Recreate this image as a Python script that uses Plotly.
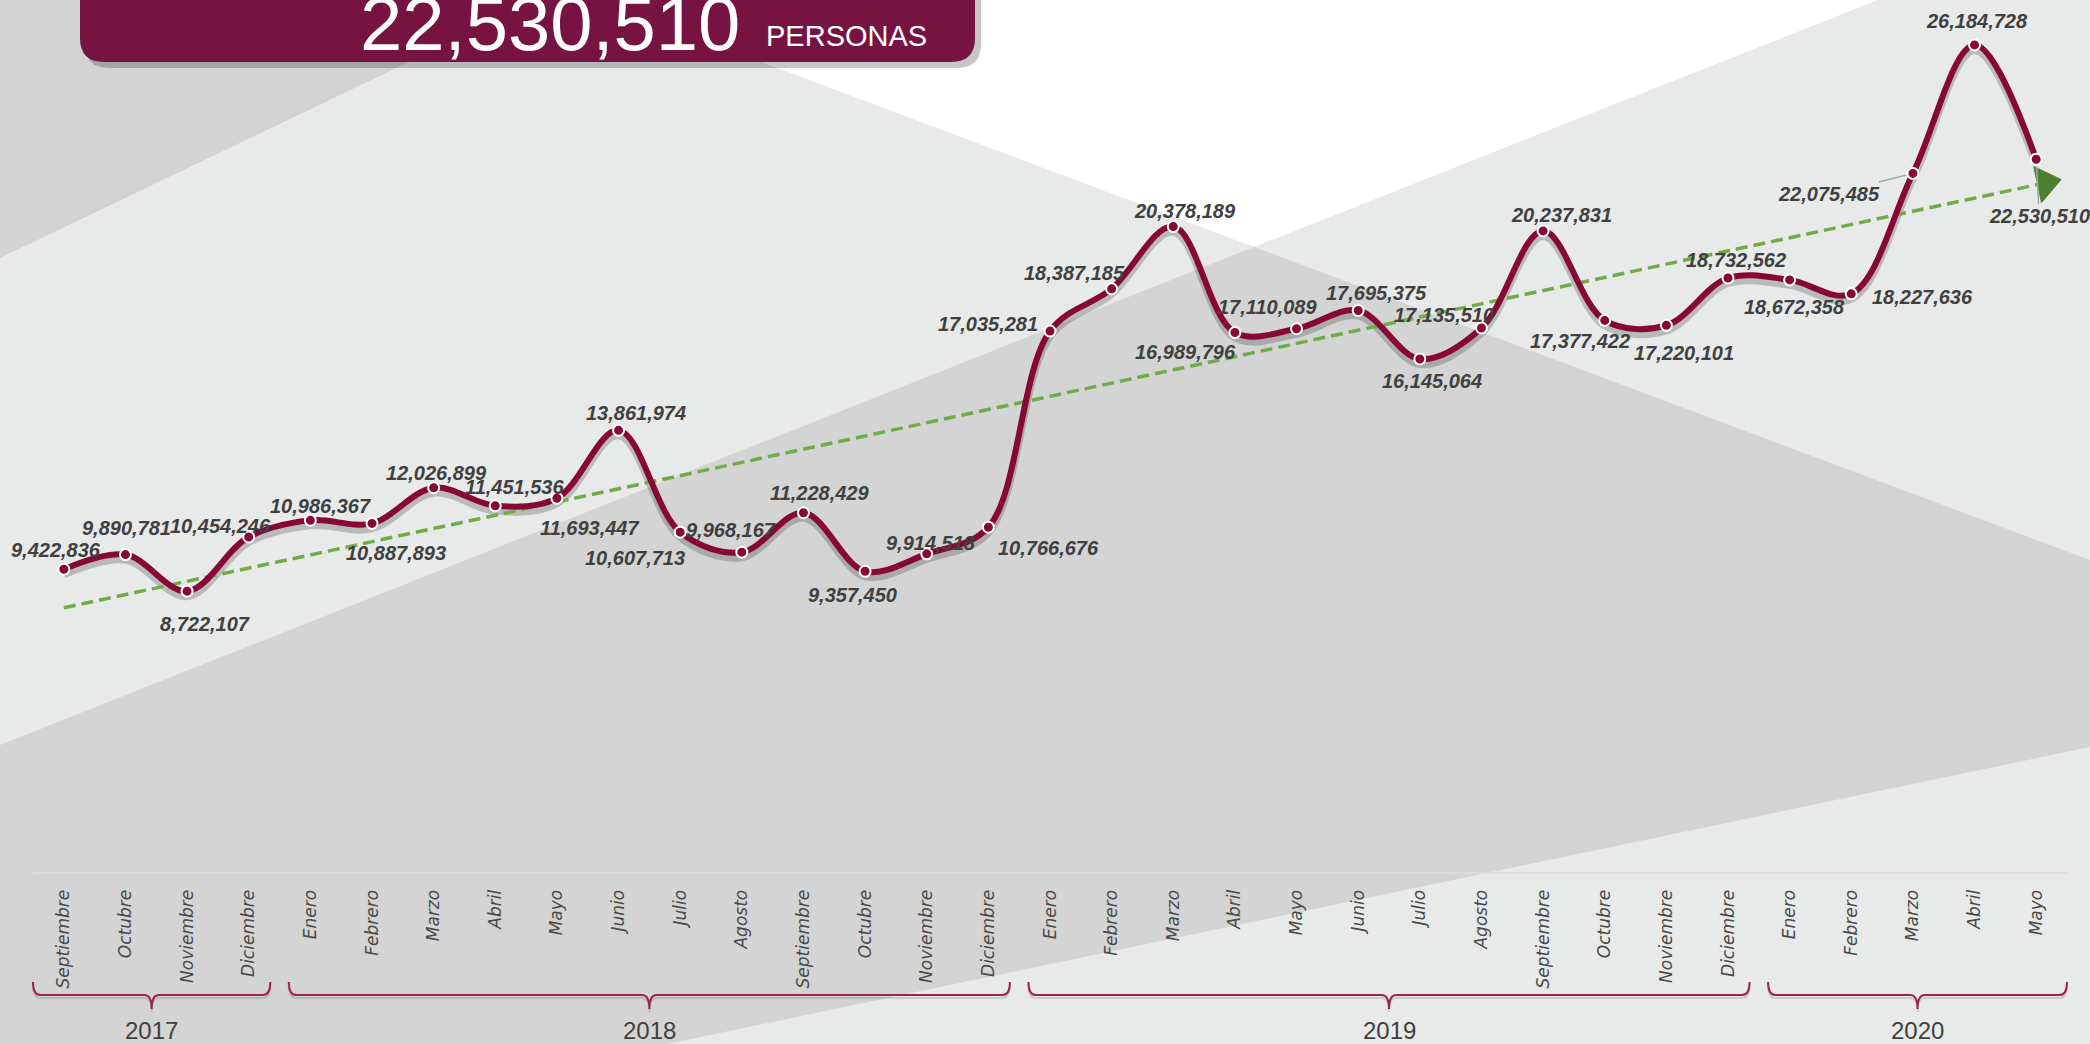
import numpy as np
import plotly.graph_objects as go

# ---------------- data ----------------
months = ["Septiembre", "Octubre", "Noviembre", "Diciembre",
          "Enero", "Febrero", "Marzo", "Abril", "Mayo", "Junio", "Julio", "Agosto",
          "Septiembre", "Octubre", "Noviembre", "Diciembre",
          "Enero", "Febrero", "Marzo", "Abril", "Mayo", "Junio", "Julio", "Agosto",
          "Septiembre", "Octubre", "Noviembre", "Diciembre",
          "Enero", "Febrero", "Marzo", "Abril", "Mayo"]
year_names = ["2017", "2018", "2019", "2020"]
year_counts = [4, 12, 12, 5]
personas = [9422836, 9890781, 8722107, 10454246,
            10986367, 10887893, 12026899, 11451536, 11693447, 13861974, 10607713, 9968167,
            11228429, 9357450, 9914518, 10766676,
            17035281, 18387185, 20378189, 16989796, 17110089, 17695375, 16145064, 17135510,
            20237831, 17377422, 17220101, 18732562,
            18672358, 18227636, 22075485, 26184728, 22530510]
headline_value = "22,530,510"
headline_unit = "PERSONAS"

# ---------------- styles ----------------
# label offsets (dx, dy) in pixels, dy positive = downwards
label_offsets = [(-8, -19), (1, -27), (18, 33), (-28, -11), (10, -14), (24, 30), (3, -15), (19, -19),
                 (33, 30), (17, -17), (-45, 26), (-11, -22), (16, -20), (-13, 24), (4, -11), (60, 21),
                 (-62, -7), (-37, -16), (12, -16), (-49, 19), (-29, -22), (18, -17), (12, 22), (-37, -13),
                 (18, -16), (-25, 21), (18, 28), (8, -18), (5, 27), (71, 3), (-84, 21), (2, -24), (3, 57)]
leader_points = {30, 32}

MAROON = "#870837"
BOX = "#761340"
BRACE = "#9B2453"
NARROW = "Liberation Sans, Arial, sans-serif"
LABEL_FONT = dict(family=NARROW, size=20, color="#404040", weight="bold", style="italic")

W, H = 2090, 1044
ML, MR, MT, MB = 33, 23, 0, 172
PW = W - ML - MR
PH = H - MT - MB

n = len(personas)
idx = np.arange(n)
XR = [-0.5, n - 0.5]
YR = [-256000, 27620000]
px_per_val = PH / (YR[1] - YR[0])
shadow_dy = 5 / px_per_val


def pp(x, y):
    return (x - ML) / PW, (MT + PH - y) / PH


def path_px(pts, close=True):
    s = ""
    for k, (x, y) in enumerate(pts):
        px, py = pp(x, y)
        s += ("M" if k == 0 else "L") + f"{px:.5f},{py:.5f} "
    return s + ("Z" if close else "")


def xpaper(i):
    return (i - XR[0]) / (XR[1] - XR[0])


def ypaper(y):
    return (MT + PH - y) / PH


shapes = []
# background polygons (pixel geometry of the decorative backdrop)
shapes.append(dict(type="path", xref="paper", yref="paper", layer="below", line=dict(width=0),
                   fillcolor="#D3D3D3", path=path_px([(0, 0), (538, 0), (0, 258)])))
shapes.append(dict(type="path", xref="paper", yref="paper", layer="below", line=dict(width=0),
                   fillcolor="#FFFFFF", path=path_px([(596, 0), (1878, 0), (1254, 247)])))
shapes.append(dict(type="path", xref="paper", yref="paper", layer="below", line=dict(width=0),
                   fillcolor="#D4D4D4",
                   path=path_px([(0, 745), (1254, 247), (2090, 560), (2090, 747), (667, 1044), (0, 1044)])))


# headline box
def box_path(x0, x1, y0, y1, r):
    s = ""
    a = pp(x0, y0); s += f"M{a[0]:.5f},{a[1]:.5f} "
    a = pp(x0, y1 - r); s += f"L{a[0]:.5f},{a[1]:.5f} "
    c = pp(x0, y1); e = pp(x0 + r, y1); s += f"Q{c[0]:.5f},{c[1]:.5f} {e[0]:.5f},{e[1]:.5f} "
    a = pp(x1 - r, y1); s += f"L{a[0]:.5f},{a[1]:.5f} "
    c = pp(x1, y1); e = pp(x1, y1 - r); s += f"Q{c[0]:.5f},{c[1]:.5f} {e[0]:.5f},{e[1]:.5f} "
    a = pp(x1, y0); s += f"L{a[0]:.5f},{a[1]:.5f} Z"
    return s


shapes.append(dict(type="path", xref="paper", yref="paper", layer="above", line=dict(width=0),
                   fillcolor="rgba(0,0,0,0.22)", path=box_path(85, 981, -40, 68, 24)))
shapes.append(dict(type="path", xref="paper", yref="paper", layer="above", line=dict(width=0),
                   fillcolor=BOX, path=box_path(80, 975, -40, 62, 24)))

annotations = []
# year braces
start = 0
for g, (name, cnt) in enumerate(zip(year_names, year_counts)):
    first, last = start, start + cnt - 1
    left = first - 0.5 + (0 if g == 0 else 0.15)
    right = last + 0.5 - (0 if g == len(year_names) - 1 else 0.15)
    mid = (left + right) / 2
    d = 0.12
    for off, col in ((3, "rgba(0,0,0,0.13)"), (0, BRACE)):
        yt2, yh2, ym2 = ypaper(982 + off), ypaper(995 + off), ypaper(1009 + off)
        p = (f"M{xpaper(left):.5f},{yt2:.5f} Q{xpaper(left):.5f},{yh2:.5f} {xpaper(left + d):.5f},{yh2:.5f} "
             f"L{xpaper(mid - d):.5f},{yh2:.5f} Q{xpaper(mid):.5f},{yh2:.5f} {xpaper(mid):.5f},{ym2:.5f} "
             f"Q{xpaper(mid):.5f},{yh2:.5f} {xpaper(mid + d):.5f},{yh2:.5f} "
             f"L{xpaper(right - d):.5f},{yh2:.5f} Q{xpaper(right):.5f},{yh2:.5f} {xpaper(right):.5f},{yt2:.5f}")
        shapes.append(dict(type="path", xref="paper", yref="paper", layer="above",
                           line=dict(color=col, width=2), path=p))
    annotations.append(dict(x=mid, y=ypaper(1030), xref="x", yref="paper", text=name, showarrow=False,
                            xanchor="center", yanchor="middle",
                            font=dict(family=NARROW, size=24, color="#404040")))
    start += cnt

# headline text
hx, hy = pp(358, 68)
annotations.append(dict(x=hx, y=hy, xref="paper", yref="paper", text=headline_value, showarrow=False,
                        xanchor="left", yanchor="bottom",
                        font=dict(family=NARROW, size=76, color="white")))
ux, uy = pp(764, 54)
annotations.append(dict(x=ux, y=uy, xref="paper", yref="paper", text=headline_unit, showarrow=False,
                        xanchor="left", yanchor="bottom",
                        font=dict(family=NARROW, size=29, color="white")))

# data labels
for i, v in enumerate(personas):
    dx, dy = label_offsets[i]
    if i in leader_points:
        annotations.append(dict(x=i, y=v, xref="x", yref="y2", text=f"{v:,}", showarrow=True,
                                ax=dx, ay=dy, arrowhead=0, arrowwidth=1.5, arrowcolor="#A6A6A6",
                                standoff=7, font=LABEL_FONT))
    else:
        annotations.append(dict(x=i, y=v, xref="x", yref="y2", text=f"{v:,}", showarrow=False,
                                xshift=dx, yshift=-dy, font=LABEL_FONT))

# trend
coef = np.polyfit(idx, personas, 1)
trend_x = np.array([0, n - 1 + 0.15])
trend_y = np.polyval(coef, trend_x)

fig = go.Figure()
fig.add_trace(go.Scatter(x=idx, y=personas, mode="lines", yaxis="y",
                         line=dict(color="rgba(0,0,0,0.20)", width=8, shape="spline", smoothing=1),
                         hoverinfo="skip", showlegend=False))
fig.add_trace(go.Scatter(x=trend_x, y=trend_y, mode="lines", yaxis="y2",
                         line=dict(color="#70AD47", width=3.5, dash="12px,6px"),
                         hoverinfo="skip", showlegend=False))
fig.add_trace(go.Scatter(x=trend_x, y=trend_y, mode="markers", yaxis="y2", opacity=1,
                         marker=dict(symbol="triangle-up", size=[0, 32], angleref="previous",
                                     color="#4E7F2E", opacity=1, line=dict(width=1, color="#4E7F2E")),
                         hoverinfo="skip", showlegend=False, cliponaxis=False))
fig.add_trace(go.Scatter(x=idx, y=personas, mode="lines+markers", yaxis="y2",
                         line=dict(color=MAROON, width=6, shape="spline", smoothing=1),
                         marker=dict(size=11, color=MAROON, line=dict(color="white", width=2)),
                         showlegend=False, cliponaxis=False))

fig.update_layout(
    width=W, height=H,
    margin=dict(l=ML, r=MR, t=MT, b=MB, pad=0),
    paper_bgcolor="#E8E9E9", plot_bgcolor="rgba(0,0,0,0)",
    showlegend=False,
    xaxis=dict(range=XR, tickmode="array", tickvals=idx, ticktext=months, tickangle=-90,
               tickfont=dict(family="DejaVu Sans", size=17, color="#4A4A4A", style="italic"),
               showline=True, linecolor="#DCDCDC", linewidth=2, showgrid=False, zeroline=False,
               ticks="", ticklabelstandoff=9, fixedrange=True),
    yaxis=dict(range=[YR[0] + shadow_dy, YR[1] + shadow_dy], visible=False, fixedrange=True),
    yaxis2=dict(range=YR, overlaying="y", visible=False, fixedrange=True),
    shapes=shapes,
    annotations=annotations,
)

fig.write_html("out.html")
